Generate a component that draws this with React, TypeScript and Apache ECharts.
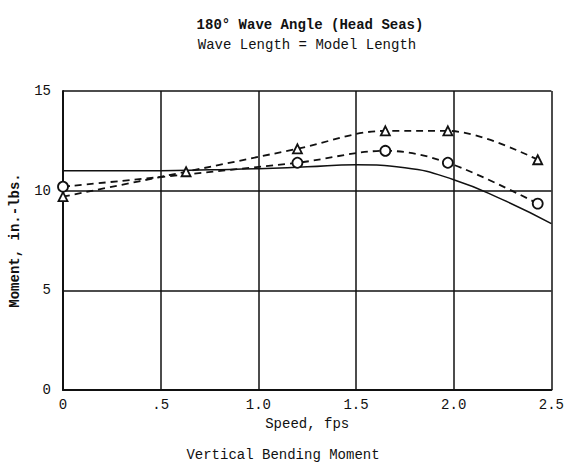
import React, { useEffect, useRef } from "react";
import * as echarts from "echarts";

const titleLines = ["180° Wave Angle (Head Seas)", "Wave Length = Model Length"];
const caption = "Vertical Bending Moment";
const xName = "Speed, fps";
const yName = "Moment, in.-lbs.";

const xTickLabels: Record<string, string> = { "0": "0", "0.5": ".5", "1": "1.0", "1.5": "1.5", "2": "2.0", "2.5": "2.5" };

// Solid fitted curve (theory)
const solidSpeed = [0, 0.25, 0.5, 0.75, 1.0, 1.25, 1.5, 1.75, 2.0, 2.25, 2.5];
const solidMoment = [11.0, 11.0, 11.0, 11.05, 11.1, 11.2, 11.3, 11.15, 10.55, 9.55, 8.35];

// Triangle measurements
const triSpeed = [0, 0.63, 1.2, 1.65, 1.97, 2.43];
const triMoment = [9.7, 10.95, 12.1, 13.0, 13.0, 11.55];

// Circle measurements
const circSpeed = [0, 1.2, 1.65, 1.97, 2.43];
const circMoment = [10.2, 11.4, 12.0, 11.4, 9.35];

const FONT = "'Liberation Mono', 'DejaVu Sans Mono', monospace";
const INK = "#111";

function zip(xs: number[], ys: number[]) {
  return xs.map((x, i) => [x, ys[i]]);
}

export default function App() {
  const ref = useRef<HTMLDivElement>(null);
  useEffect(() => {
    if (!ref.current) return;
    const chart = echarts.init(ref.current, undefined, { renderer: "svg" });
    chart.setOption({
      animation: false,
      backgroundColor: "#fff",
      title: [
        {
          text: titleLines[0],
          left: 305,
          top: 13,
          textAlign: "center",
          textStyle: { fontFamily: FONT, fontSize: 14, fontWeight: "bold", color: INK },
        },
        {
          text: titleLines[1],
          left: 302,
          top: 33,
          textAlign: "center",
          textStyle: { fontFamily: FONT, fontSize: 14, fontWeight: "normal", color: INK },
        },
        {
          text: caption,
          left: 278,
          top: 443,
          textAlign: "center",
          textStyle: { fontFamily: FONT, fontSize: 14, fontWeight: "normal", color: INK },
        },
      ],
      grid: { left: 60, right: 12, top: 91, bottom: 80 },
      xAxis: {
        type: "value",
        min: 0,
        max: 2.5,
        interval: 0.5,
        name: xName,
        nameLocation: "middle",
        nameGap: 22,
        nameTextStyle: { fontFamily: FONT, fontSize: 14, color: INK },
        axisLine: { show: true, lineStyle: { color: INK, width: 2 } },
        axisTick: { show: false },
        axisLabel: {
          fontFamily: FONT,
          fontSize: 14,
          color: INK,
          margin: 8,
          formatter: (v: number) => xTickLabels[String(v)] ?? String(v),
        },
        splitLine: { show: true, lineStyle: { color: INK, width: 1.5 } },
      },
      yAxis: {
        type: "value",
        min: 0,
        max: 15,
        interval: 5,
        name: yName,
        nameLocation: "middle",
        nameGap: 41,
        nameRotate: 90,
        nameTextStyle: { fontFamily: FONT, fontSize: 14, fontWeight: "bold", color: INK },
        axisLine: { show: true, lineStyle: { color: INK, width: 2 } },
        axisTick: { show: false },
        axisLabel: { fontFamily: FONT, fontSize: 14, color: INK, margin: 12 },
        splitLine: { show: true, lineStyle: { color: INK, width: 1.5 } },
      },
      series: [
        {
          name: "Theory",
          type: "line",
          data: zip(solidSpeed, solidMoment),
          smooth: 0.5,
          symbol: "none",
          lineStyle: { color: INK, width: 1.5, type: "solid" },
          z: 3,
        },
        {
          name: "Triangle",
          type: "line",
          data: zip(triSpeed, triMoment),
          smooth: 0.35,
          symbol: "triangle",
          symbolSize: 9,
          itemStyle: { color: "#fff", borderColor: INK, borderWidth: 1.8 },
          lineStyle: { color: INK, width: 1.8, type: [7, 5] },
          z: 4,
        },
        {
          name: "Circle",
          type: "line",
          data: zip(circSpeed, circMoment),
          smooth: 0.35,
          symbol: "circle",
          symbolSize: 10,
          itemStyle: { color: "#fff", borderColor: INK, borderWidth: 1.8 },
          lineStyle: { color: INK, width: 1.8, type: [7, 5] },
          z: 4,
        },
      ],
    });
    return () => chart.dispose();
  }, []);
  return <div ref={ref} style={{ width: 567, height: 470, position: "absolute", left: 0, top: 0 }} />;
}
